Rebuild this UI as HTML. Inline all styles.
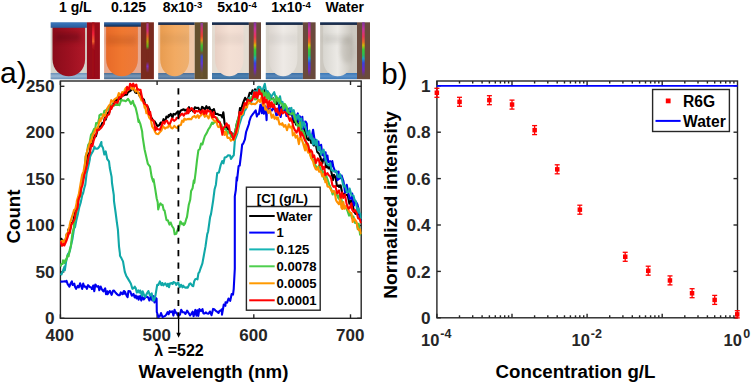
<!DOCTYPE html>
<html><head><meta charset="utf-8"><style>
html,body{margin:0;padding:0;background:#fff;}
svg{display:block;}
text{font-family:"Liberation Sans",sans-serif;}
</style></head><body>
<svg width="751" height="383" viewBox="0 0 751 383">
<defs>
<filter id="blur" x="-200%" y="-10%" width="500%" height="120%"><feGaussianBlur stdDeviation="0.75"/></filter>
<filter id="blur2" x="-20%" y="-50%" width="140%" height="200%"><feGaussianBlur stdDeviation="2"/></filter>
<linearGradient id="sg0" x1="0" y1="0" x2="0" y2="1"><stop offset="0" stop-color="#a00c18"/><stop offset="0.08" stop-color="#d02020"/><stop offset="0.2" stop-color="#ff2040"/><stop offset="0.35" stop-color="#ff7030"/><stop offset="0.42" stop-color="#c02020"/><stop offset="0.5" stop-color="#a00c18"/><stop offset="1" stop-color="#a00c18"/></linearGradient>
<linearGradient id="cg0" x1="0" y1="0" x2="1" y2="0"><stop offset="0" stop-color="#8a0c1a"/><stop offset="0.5" stop-color="#9c1020"/><stop offset="1" stop-color="#b01828"/></linearGradient>
<linearGradient id="tg0" x1="0" y1="0" x2="0" y2="1"><stop offset="0" stop-color="#3a78c0"/><stop offset="1" stop-color="#2a5a98"/></linearGradient>
<linearGradient id="bg0" x1="0" y1="0" x2="0" y2="1"><stop offset="0" stop-color="#6a90b8"/><stop offset="0.5" stop-color="#9ab8d4"/><stop offset="1" stop-color="#6a90b8"/></linearGradient>
<linearGradient id="sg1" x1="0" y1="0" x2="0" y2="1"><stop offset="0" stop-color="#7a2a1e"/><stop offset="0.03" stop-color="#b040a0"/><stop offset="0.15" stop-color="#e03090"/><stop offset="0.25" stop-color="#ff6030"/><stop offset="0.35" stop-color="#c0c000"/><stop offset="0.44" stop-color="#60c020"/><stop offset="0.5" stop-color="#7a2a1e"/><stop offset="0.72" stop-color="#7a2a1e"/><stop offset="0.8" stop-color="#8030e0"/><stop offset="0.92" stop-color="#7a2a1e"/><stop offset="1" stop-color="#7a2a1e"/></linearGradient>
<linearGradient id="cg1" x1="0" y1="0" x2="1" y2="0"><stop offset="0" stop-color="#e86a28"/><stop offset="0.5" stop-color="#f07830"/><stop offset="1" stop-color="#ec7a3c"/></linearGradient>
<linearGradient id="tg1" x1="0" y1="0" x2="0" y2="1"><stop offset="0" stop-color="#3070b8"/><stop offset="1" stop-color="#102a50"/></linearGradient>
<linearGradient id="bg1" x1="0" y1="0" x2="0" y2="1"><stop offset="0" stop-color="#4a6e94"/><stop offset="0.5" stop-color="#7a98b8"/><stop offset="1" stop-color="#4a6e94"/></linearGradient>
<linearGradient id="sg2" x1="0" y1="0" x2="0" y2="1"><stop offset="0" stop-color="#6e5530"/><stop offset="0.02" stop-color="#9040b0"/><stop offset="0.12" stop-color="#e03070"/><stop offset="0.25" stop-color="#ff4030"/><stop offset="0.33" stop-color="#ff9020"/><stop offset="0.42" stop-color="#40d030"/><stop offset="0.5" stop-color="#30b040"/><stop offset="0.56" stop-color="#6e5530"/><stop offset="0.62" stop-color="#3050e0"/><stop offset="0.75" stop-color="#6030f0"/><stop offset="0.92" stop-color="#6e5530"/><stop offset="1" stop-color="#6e5530"/></linearGradient>
<linearGradient id="cg2" x1="0" y1="0" x2="1" y2="0"><stop offset="0" stop-color="#e89c50"/><stop offset="0.5" stop-color="#f2aa62"/><stop offset="1" stop-color="#eeb070"/></linearGradient>
<linearGradient id="tg2" x1="0" y1="0" x2="0" y2="1"><stop offset="0" stop-color="#2a4a78"/><stop offset="1" stop-color="#101e3a"/></linearGradient>
<linearGradient id="bg2" x1="0" y1="0" x2="0" y2="1"><stop offset="0" stop-color="#4a6e98"/><stop offset="0.5" stop-color="#6a8cb0"/><stop offset="1" stop-color="#4a6e98"/></linearGradient>
<linearGradient id="sg3" x1="0" y1="0" x2="0" y2="1"><stop offset="0" stop-color="#8030b0"/><stop offset="0.12" stop-color="#d030b0"/><stop offset="0.26" stop-color="#ff3060"/><stop offset="0.36" stop-color="#ff7020"/><stop offset="0.42" stop-color="#e0d000"/><stop offset="0.5" stop-color="#30e030"/><stop offset="0.6" stop-color="#20d060"/><stop offset="0.66" stop-color="#10b0e0"/><stop offset="0.74" stop-color="#3040ff"/><stop offset="0.86" stop-color="#7020e0"/><stop offset="0.96" stop-color="#6a4060"/><stop offset="1" stop-color="#6a4a3c"/></linearGradient>
<linearGradient id="cg3" x1="0" y1="0" x2="1" y2="0"><stop offset="0" stop-color="#e8d0c4"/><stop offset="0.5" stop-color="#f4e0d4"/><stop offset="1" stop-color="#f0dcd2"/></linearGradient>
<linearGradient id="tg3" x1="0" y1="0" x2="0" y2="1"><stop offset="0" stop-color="#203c64"/><stop offset="1" stop-color="#101e38"/></linearGradient>
<linearGradient id="bg3" x1="0" y1="0" x2="0" y2="1"><stop offset="0" stop-color="#3a6ea0"/><stop offset="0.5" stop-color="#4a80b0"/><stop offset="1" stop-color="#3a6ea0"/></linearGradient>
<linearGradient id="sg4" x1="0" y1="0" x2="0" y2="1"><stop offset="0" stop-color="#8030b0"/><stop offset="0.12" stop-color="#d030b0"/><stop offset="0.26" stop-color="#ff3060"/><stop offset="0.36" stop-color="#ff7020"/><stop offset="0.42" stop-color="#e0d000"/><stop offset="0.5" stop-color="#30e030"/><stop offset="0.6" stop-color="#20d060"/><stop offset="0.66" stop-color="#10b0e0"/><stop offset="0.74" stop-color="#3040ff"/><stop offset="0.86" stop-color="#7020e0"/><stop offset="0.96" stop-color="#6a4060"/><stop offset="1" stop-color="#6a4a3c"/></linearGradient>
<linearGradient id="cg4" x1="0" y1="0" x2="1" y2="0"><stop offset="0" stop-color="#dcd6d0"/><stop offset="0.5" stop-color="#eeeae6"/><stop offset="1" stop-color="#e4e0da"/></linearGradient>
<linearGradient id="tg4" x1="0" y1="0" x2="0" y2="1"><stop offset="0" stop-color="#203c64"/><stop offset="1" stop-color="#101e38"/></linearGradient>
<linearGradient id="bg4" x1="0" y1="0" x2="0" y2="1"><stop offset="0" stop-color="#3a70a8"/><stop offset="0.5" stop-color="#5a88b8"/><stop offset="1" stop-color="#3a70a8"/></linearGradient>
<linearGradient id="sg5" x1="0" y1="0" x2="0" y2="1"><stop offset="0" stop-color="#8030b0"/><stop offset="0.12" stop-color="#d030b0"/><stop offset="0.26" stop-color="#ff3060"/><stop offset="0.36" stop-color="#ff7020"/><stop offset="0.42" stop-color="#e0d000"/><stop offset="0.5" stop-color="#30e030"/><stop offset="0.6" stop-color="#20d060"/><stop offset="0.66" stop-color="#10b0e0"/><stop offset="0.74" stop-color="#3040ff"/><stop offset="0.86" stop-color="#7020e0"/><stop offset="0.96" stop-color="#6a4060"/><stop offset="1" stop-color="#6a4a3c"/></linearGradient>
<linearGradient id="cg5" x1="0" y1="0" x2="1" y2="0"><stop offset="0" stop-color="#d8d6d0"/><stop offset="0.5" stop-color="#eceae6"/><stop offset="1" stop-color="#c8c4bc"/></linearGradient>
<linearGradient id="tg5" x1="0" y1="0" x2="0" y2="1"><stop offset="0" stop-color="#203c64"/><stop offset="1" stop-color="#101e38"/></linearGradient>
<linearGradient id="bg5" x1="0" y1="0" x2="0" y2="1"><stop offset="0" stop-color="#3a78b8"/><stop offset="0.5" stop-color="#5a90c8"/><stop offset="1" stop-color="#3a78b8"/></linearGradient>
</defs>
<rect width="751" height="383" fill="#fff"/>
<!-- photo labels -->
<g font-weight="bold" font-size="14" fill="#000" text-anchor="middle">
<text x="75.3" y="12">1 g/L</text>
<text x="128.5" y="12">0.125</text>
<text x="182.5" y="12">8x10<tspan font-size="9.5" dy="-4">-3</tspan></text>
<text x="237" y="12">5x10<tspan font-size="9.5" dy="-4">-4</tspan></text>
<text x="291" y="12">1x10<tspan font-size="9.5" dy="-4">-4</tspan></text>
<text x="344.7" y="12">Water</text>
</g>
<rect x="50.7" y="22.3" width="36.2" height="56.9" fill="#d4d4cc"/>
<rect x="50.7" y="73.0" width="36.2" height="6.2" fill="url(#bg0)"/>
<path d="M52.5,24.5 L85.1,24.5 L85.1,59.0 C85.1,82.0 52.5,82.0 52.5,59.0 Z" fill="url(#cg0)"/>
<rect x="52.5" y="34" width="32.6" height="10" fill="#000" opacity="0.035" filter="url(#blur2)"/>
<rect x="50.7" y="22.3" width="36.2" height="5.5" fill="url(#tg0)"/>
<rect x="86.9" y="22.3" width="13.0" height="56.9" fill="#980c1a"/>
<rect x="92.1" y="22.3" width="2.4" height="54.9" fill="url(#sg0)" filter="url(#blur)" opacity="0.85"/>
<rect x="104.1" y="22.3" width="36.8" height="56.9" fill="#e6a890"/>
<rect x="104.1" y="73.0" width="36.8" height="6.2" fill="url(#bg1)"/>
<path d="M106.1,24.5 L137.9,24.5 L137.9,59.0 C137.9,82.0 106.1,82.0 106.1,59.0 Z" fill="url(#cg1)"/>
<rect x="106.1" y="34" width="31.8" height="10" fill="#000" opacity="0.035" filter="url(#blur2)"/>
<rect x="104.1" y="22.3" width="36.8" height="4.4" fill="url(#tg1)"/>
<rect x="140.9" y="22.3" width="13.0" height="56.9" fill="#7a2a1e"/>
<rect x="146.4" y="22.3" width="2.2" height="54.9" fill="url(#sg1)" filter="url(#blur)" opacity="0.85"/>
<rect x="158.2" y="22.3" width="36.5" height="56.9" fill="#f0c8a8"/>
<rect x="158.2" y="73.0" width="36.5" height="6.2" fill="url(#bg2)"/>
<path d="M160.2,24.5 L189.2,24.5 L189.2,59.0 C189.2,82.0 160.2,82.0 160.2,59.0 Z" fill="url(#cg2)"/>
<rect x="160.2" y="34" width="29.0" height="10" fill="#000" opacity="0.035" filter="url(#blur2)"/>
<rect x="158.2" y="22.3" width="36.5" height="2.6" fill="url(#tg2)"/>
<rect x="194.7" y="22.3" width="13.0" height="56.9" fill="#64502e"/>
<rect x="200.5" y="22.3" width="2.4" height="54.9" fill="url(#sg2)" filter="url(#blur)" opacity="0.85"/>
<rect x="212.0" y="22.3" width="36.9" height="56.9" fill="#e4dcd2"/>
<rect x="212.0" y="73.0" width="36.9" height="6.2" fill="url(#bg3)"/>
<path d="M215.0,24.5 L243.5,24.5 L243.5,59.0 C243.5,82.0 215.0,82.0 215.0,59.0 Z" fill="url(#cg3)"/>
<rect x="215.0" y="34" width="28.5" height="10" fill="#000" opacity="0.035" filter="url(#blur2)"/>
<rect x="212.0" y="22.3" width="36.9" height="2.6" fill="url(#tg3)"/>
<rect x="248.9" y="22.3" width="12.1" height="56.9" fill="#6a4a3c"/>
<rect x="253.7" y="22.3" width="2.6" height="54.9" fill="url(#sg3)" filter="url(#blur)" opacity="0.85"/>
<rect x="265.8" y="22.3" width="37.1" height="56.9" fill="#d8d4cc"/>
<rect x="265.8" y="73.0" width="37.1" height="6.2" fill="url(#bg4)"/>
<path d="M269.0,24.5 L297.4,24.5 L297.4,59.0 C297.4,82.0 269.0,82.0 269.0,59.0 Z" fill="url(#cg4)"/>
<rect x="269.0" y="34" width="28.4" height="10" fill="#000" opacity="0.035" filter="url(#blur2)"/>
<rect x="265.8" y="22.3" width="37.1" height="2.6" fill="url(#tg4)"/>
<rect x="302.9" y="22.3" width="12.7" height="56.9" fill="#6a4a3c"/>
<rect x="308.0" y="22.3" width="2.6" height="54.9" fill="url(#sg4)" filter="url(#blur)" opacity="0.85"/>
<rect x="320.1" y="22.3" width="36.9" height="56.9" fill="#ccc8c0"/>
<rect x="320.1" y="73.0" width="36.9" height="6.2" fill="url(#bg5)"/>
<path d="M323.1,24.5 L352.3,24.5 L352.3,59.0 C352.3,82.0 323.1,82.0 323.1,59.0 Z" fill="url(#cg5)"/>
<rect x="323.1" y="34" width="29.2" height="10" fill="#000" opacity="0.035" filter="url(#blur2)"/>
<rect x="320.1" y="22.3" width="36.9" height="2.6" fill="url(#tg5)"/>
<rect x="357.0" y="22.3" width="13.0" height="56.9" fill="#6a4a3c"/>
<rect x="362.1" y="22.3" width="2.6" height="54.9" fill="url(#sg5)" filter="url(#blur)" opacity="0.85"/>
<ellipse cx="347" cy="50" rx="7" ry="13" fill="#8a8478" opacity="0.22" filter="url(#blur2)"/>
<rect x="324" y="36" width="28" height="6" fill="#8a8478" opacity="0.10" filter="url(#blur2)"/>
<rect x="56" y="33" width="24" height="8" fill="#400008" opacity="0.25" filter="url(#blur2)"/>
<rect x="107" y="37" width="28" height="8" fill="#a04010" opacity="0.15" filter="url(#blur2)"/>
<!-- panel a -->
<text x="0" y="83" font-size="30" fill="#000">a)</text>
<g stroke="#262626" stroke-width="1.4" fill="none">
<rect x="60.4" y="81" width="300.8" height="237.3"/>
<line x1="60.4" y1="318.3" x2="60.4" y2="314.3"/><line x1="60.4" y1="81" x2="60.4" y2="85"/>
<line x1="157.1" y1="318.3" x2="157.1" y2="314.3"/><line x1="157.1" y1="81" x2="157.1" y2="85"/>
<line x1="253.8" y1="318.3" x2="253.8" y2="314.3"/><line x1="253.8" y1="81" x2="253.8" y2="85"/>
<line x1="350.5" y1="318.3" x2="350.5" y2="314.3"/><line x1="350.5" y1="81" x2="350.5" y2="85"/>
<line x1="60.4" y1="318.3" x2="64.4" y2="318.3"/><line x1="361.2" y1="318.3" x2="357.2" y2="318.3"/>
<line x1="60.4" y1="271.9" x2="64.4" y2="271.9"/><line x1="361.2" y1="271.9" x2="357.2" y2="271.9"/>
<line x1="60.4" y1="225.5" x2="64.4" y2="225.5"/><line x1="361.2" y1="225.5" x2="357.2" y2="225.5"/>
<line x1="60.4" y1="179.1" x2="64.4" y2="179.1"/><line x1="361.2" y1="179.1" x2="357.2" y2="179.1"/>
<line x1="60.4" y1="132.7" x2="64.4" y2="132.7"/><line x1="361.2" y1="132.7" x2="357.2" y2="132.7"/>
<line x1="60.4" y1="86.3" x2="64.4" y2="86.3"/><line x1="361.2" y1="86.3" x2="357.2" y2="86.3"/>
</g>
<clipPath id="clipa"><rect x="60" y="81" width="301.6" height="237.3"/></clipPath>
<g clip-path="url(#clipa)">
<polyline points="60.4,238.3 62.4,239.8 63.9,243.2 64.3,242.6 65.3,241.1 66.9,233.7 68.3,234.8 68.4,229.4 69.5,231.8 71.5,222.9 73.0,222.2 74.7,214.3 76.2,209.1 77.6,201.6 79.4,194.8 81.5,183.9 82.9,179.6 84.8,170.5 86.8,162.4 87.9,154.6 89.6,152.6 91.0,143.7 93.0,140.6 94.7,135.4 95.8,136.4 97.3,131.3 97.3,130.1 98.8,126.6 100.9,126.6 102.2,123.1 103.3,124.2 104.9,117.2 105.7,119.6 107.7,112.7 109.3,112.4 110.5,105.3 111.3,106.7 112.8,105.5 114.5,100.4 116.0,99.5 117.1,102.7 118.9,97.2 120.7,99.7 121.8,94.0 123.3,95.5 124.6,95.1 125.7,94.3 126.9,94.7 128.0,92.2 130.0,91.0 131.3,90.2 132.2,85.8 133.2,87.2 135.1,92.2 136.7,93.0 138.6,92.7 139.8,96.5 140.5,94.1 141.8,98.1 143.9,99.6 145.3,105.0 146.8,105.2 148.8,109.3 148.9,114.7 150.3,115.1 151.5,117.7 153.4,121.1 154.4,121.2 155.8,123.3 157.5,126.2 159.5,125.0 160.7,122.5 161.7,124.9 163.5,119.2 165.2,121.7 166.4,116.6 167.9,117.3 168.8,115.0 169.2,116.2 170.7,113.9 172.5,117.5 173.5,113.9 175.2,114.5 176.5,112.9 178.0,111.3 178.8,115.4 180.5,110.7 182.0,110.0 183.7,109.2 184.7,110.4 185.8,110.5 186.2,109.6 187.6,111.9 189.0,107.2 190.1,111.0 191.8,108.6 193.3,111.4 194.8,107.3 196.4,108.0 198.4,107.9 200.0,111.5 201.0,110.4 202.1,106.9 203.8,108.2 205.1,109.5 206.4,106.2 207.9,108.6 209.3,107.0 211.1,112.2 212.2,109.9 213.4,112.2 213.9,109.1 215.3,114.0 217.3,113.9 219.2,115.0 221.0,115.1 222.4,117.4 223.3,112.2 223.5,113.4 224.5,122.9 226.5,129.3 227.8,126.6 229.4,132.2 231.3,132.3 232.6,136.6 233.8,135.5 235.4,130.8 236.9,123.1 238.6,118.3 240.0,108.0 241.0,110.1 243.0,103.2 245.1,97.8 247.0,100.6 248.0,98.7 249.7,92.7 251.5,93.8 252.5,90.3 254.3,95.4 255.0,89.4 257.0,90.9 258.2,88.5 260.0,93.1 261.2,93.9 262.7,92.0 264.6,90.1 266.7,96.7 268.5,96.0 270.0,95.5 271.4,98.9 273.2,98.4 274.5,101.9 276.5,104.0 277.0,99.6 278.4,103.3 280.2,110.5 281.2,107.9 283.2,104.8 284.9,111.8 286.2,108.6 287.9,113.6 289.7,114.4 290.0,111.9 292.0,114.0 293.4,122.3 294.6,119.3 296.0,124.7 297.2,120.0 298.7,123.6 300.5,122.7 301.3,129.2 303.0,127.1 304.8,130.5 306.9,138.4 308.6,140.1 309.6,136.4 311.2,143.1 312.0,138.3 313.7,145.5 315.8,144.3 317.3,152.1 319.3,154.0 320.2,156.7 322.3,163.4 323.4,159.1 325.3,160.1 326.0,167.4 327.4,165.1 328.4,168.4 329.4,166.6 331.2,171.2 333.0,180.1 334.0,174.8 335.7,177.8 336.9,185.9 338.9,185.4 339.0,186.9 340.6,185.3 342.6,194.7 344.1,193.9 345.8,195.0 347.7,194.8 349.4,203.8 351.3,200.3 352.0,202.4 354.0,210.9 355.5,213.9 357.5,210.5 359.2,214.6 361.0,215.7" fill="none" stroke="#000000" stroke-width="2.1" stroke-linejoin="round"/>
<polyline points="60.4,281.5 61.7,281.6 63.5,281.5 64.4,281.4 66.2,281.6 66.5,280.8 67.7,284.2 69.4,286.6 70.6,283.5 71.9,281.4 72.7,285.0 74.3,283.7 75.0,286.8 76.1,288.8 77.7,285.9 78.8,287.4 80.1,283.3 81.0,285.7 82.2,288.9 83.2,283.5 84.2,286.8 85.8,286.5 86.9,288.8 88.1,285.2 89.9,287.0 91.7,287.9 91.9,289.0 93.2,285.6 94.3,291.2 95.3,284.5 97.0,286.7 98.4,286.1 99.3,290.2 100.7,286.6 102.0,289.6 103.4,291.4 105.2,288.3 106.0,294.1 107.3,291.3 107.6,294.3 108.4,292.9 109.9,290.8 111.6,294.8 113.0,290.8 114.0,290.5 115.7,292.8 117.0,294.2 118.3,295.2 119.8,295.1 120.8,292.4 122.4,294.2 123.9,291.0 124.0,293.7 125.0,291.8 126.6,295.6 127.6,297.1 128.4,291.1 130.1,291.2 131.8,295.7 133.5,293.9 134.7,297.4 135.8,295.5 136.6,298.5 138.0,296.4 138.6,299.6 140.2,295.9 141.3,300.6 142.3,296.9 143.8,299.4 145.4,297.3 147.2,296.8 148.1,297.3 149.4,300.5 151.1,296.2 152.3,300.5 153.7,296.2 154.5,302.4 155.0,297.3 156.6,298.8 156.8,312.0 158.5,317.2 160.0,315.8 161.0,313.1 162.6,317.1 163.6,316.6 165.2,315.9 166.1,314.9 167.7,312.1 168.7,314.2 169.8,311.2 170.9,312.1 172.4,311.3 173.4,315.6 174.6,309.8 175.4,312.7 176.4,312.5 177.7,315.2 178.5,315.7 180.0,314.6 181.2,309.7 182.7,312.3 184.2,312.3 185.4,314.0 187.1,310.7 188.5,312.8 190.1,315.5 191.3,313.8 192.6,311.7 193.6,316.3 195.4,309.9 196.4,315.6 197.5,310.2 198.3,315.9 199.4,309.1 201.0,311.1 202.5,309.1 203.4,313.4 204.6,313.5 205.8,312.4 207.2,313.5 208.5,313.7 209.9,311.5 211.5,315.2 213.1,308.9 214.2,309.2 215.5,310.5 216.6,311.5 217.5,311.8 218.5,313.0 219.6,310.7 220.7,310.6 221.8,309.3 222.0,314.6 223.8,304.5 225.4,305.8 225.5,302.2 227.1,302.7 228.5,298.5 230.2,300.8 231.7,294.1 233.0,294.6 233.7,289.2 234.8,268.8 234.8,196.3 235.8,190.1 236.7,177.3 237.0,180.7 238.6,166.1 239.7,165.5 241.3,152.5 242.2,144.3 243.1,143.8 244.9,139.4 246.1,132.0 247.2,128.8 248.9,124.0 249.3,121.5 250.8,117.0 251.8,115.5 253.0,113.8 254.0,112.6 255.7,110.4 256.9,116.5 257.5,114.4 258.9,114.1 260.4,104.8 261.8,113.1 262.7,102.9 263.9,113.8 265.6,106.3 266.6,120.1 266.8,110.8 268.4,108.1 269.5,108.6 271.0,110.2 272.1,110.5 273.3,106.6 274.6,109.7 275.0,108.8 276.3,115.2 278.1,114.6 279.2,105.4 280.7,117.0 282.0,107.8 283.0,110.3 284.7,105.5 285.5,111.0 286.4,115.9 288.2,110.6 289.3,108.4 290.6,114.4 292.0,110.7 293.6,119.1 295.1,115.0 296.2,117.9 297.8,113.4 298.6,122.2 299.8,116.3 301.0,121.7 302.3,116.7 303.2,128.9 304.2,121.7 305.6,121.6 306.8,123.8 307.0,130.1 308.4,132.0 310.1,136.8 311.6,138.7 312.0,135.6 313.1,129.8 314.7,140.7 315.7,139.8 316.6,144.5 318.4,141.5 319.5,150.3 321.1,144.7 322.4,155.1 323.8,151.7 324.6,160.0 325.6,152.2 326.0,159.5 327.4,155.5 328.3,162.3 330.1,161.2 331.0,167.6 332.3,161.1 333.3,166.6 334.8,170.6 335.9,172.1 336.8,171.6 337.6,180.1 338.6,171.6 339.0,178.9 340.3,178.1 341.6,175.5 343.4,181.0 345.1,192.4 346.7,184.8 348.2,192.3 349.6,198.8 351.4,198.4 352.2,193.5 353.1,202.6 354.2,205.4 355.1,200.6 356.5,202.9 357.5,204.6 358.6,209.7 359.7,217.9 360.6,220.1 361.0,219.6" fill="none" stroke="#0000f0" stroke-width="2.1" stroke-linejoin="round"/>
<polyline points="60.4,273.7 61.5,274.4 62.7,271.4 64.5,266.6 64.8,270.3 66.3,260.4 68.0,253.9 69.0,252.8 69.9,250.9 71.0,245.6 72.6,238.2 74.1,228.2 75.0,227.3 76.3,220.6 77.9,213.9 79.2,207.5 80.8,202.1 82.7,193.1 83.0,193.7 84.3,188.0 85.3,184.6 86.6,173.6 88.0,168.0 89.8,159.6 90.0,157.2 91.2,154.1 93.1,151.0 94.4,146.7 95.2,148.5 96.2,148.6 97.1,148.7 98.0,148.3 99.8,146.0 101.4,142.0 101.5,145.2 103.0,148.1 104.3,154.5 105.7,151.4 107.2,159.0 109.0,161.3 109.8,168.0 111.6,176.9 112.0,183.0 113.8,195.1 114.0,201.1 115.6,212.5 116.8,221.8 117.9,229.6 119.0,246.3 119.9,253.3 120.0,255.8 121.6,258.6 123.0,261.4 124.8,271.9 126.2,275.7 127.5,277.9 129.4,281.1 130.9,283.8 132.4,288.8 133.7,288.1 134.8,286.7 135.8,288.4 136.8,292.6 138.3,290.4 139.3,292.6 140.2,290.5 141.9,295.7 142.7,291.3 144.0,294.8 145.4,296.8 147.0,293.3 148.4,291.0 150.0,295.6 151.7,293.4 153.2,300.5 154.1,300.5 155.5,295.2 157.2,284.9 158.3,285.0 159.9,281.4 161.4,285.1 162.3,283.0 163.4,285.3 165.3,283.3 167.0,286.1 167.9,283.8 169.0,287.2 169.9,283.5 171.7,283.1 172.6,284.0 173.5,282.0 175.0,282.6 176.3,284.9 177.5,282.8 178.4,282.9 179.7,287.3 181.0,284.8 182.4,287.3 183.2,285.6 184.2,287.0 185.3,287.6 186.6,287.4 187.8,287.7 189.4,284.0 190.5,283.4 192.4,285.9 193.3,286.1 194.2,281.2 195.3,279.2 196.8,278.6 197.5,279.4 198.4,273.3 199.5,271.8 200.8,267.8 202.4,263.4 203.7,256.2 205.5,246.4 207.2,234.4 208.1,231.5 210.1,217.1 211.0,214.1 211.9,208.7 213.1,200.8 214.6,189.2 215.9,184.7 217.2,173.1 218.9,172.5 220.7,165.0 222.2,161.0 223.4,163.4 224.7,157.5 226.6,156.9 228.1,155.2 230.1,155.6 231.0,159.0 232.8,156.3 233.8,155.2 234.9,139.9 236.0,137.1 237.4,133.1 238.6,127.4 239.5,123.8 240.1,122.2 242.0,116.2 243.5,114.8 244.6,110.6 245.7,109.5 247.1,102.3 248.0,103.6 249.0,98.1 250.9,103.4 252.8,95.4 253.9,91.7 255.0,91.0 256.2,95.0 257.9,87.2 258.8,86.7 260.2,87.1 261.6,90.7 263.1,88.8 264.8,83.8 266.6,94.5 267.7,91.2 268.7,93.0 270.0,94.5 270.6,98.0 272.5,94.8 274.2,92.2 275.8,97.8 277.7,98.0 278.9,103.4 280.0,96.2 281.3,103.8 282.5,101.9 284.0,108.0 285.9,106.5 287.0,111.7 288.4,111.5 290.0,108.9 291.4,107.9 292.0,113.5 293.7,110.1 295.5,118.1 296.5,119.6 297.5,115.2 298.4,115.0 299.4,120.0 301.3,118.4 302.2,127.6 303.9,122.0 305.6,127.3 306.6,132.1 307.7,135.1 309.4,130.6 310.5,138.5 311.4,134.9 313.0,144.5 313.9,139.1 315.5,145.1 316.7,139.9 318.1,150.1 319.9,146.8 321.0,154.7 322.4,151.3 323.6,149.5 324.7,155.2 326.0,161.4 327.0,164.2 328.8,165.4 330.3,163.1 331.5,170.0 333.4,171.2 334.6,171.6 336.2,170.8 337.9,176.7 339.0,177.2 339.9,174.1 341.7,178.3 343.6,186.7 344.6,185.3 345.6,187.6 347.0,192.5 348.5,191.9 349.6,188.5 351.5,195.2 353.5,195.8 354.6,200.0 356.1,202.1 357.4,212.6 358.5,208.3 359.4,213.2 360.5,213.8 361.0,219.2" fill="none" stroke="#10a8a8" stroke-width="2.1" stroke-linejoin="round"/>
<polyline points="60.4,266.5 61.4,264.0 62.6,263.9 63.0,260.3 64.6,262.9 65.6,259.5 66.0,260.8 67.5,255.4 68.6,256.3 69.9,249.3 70.9,245.7 72.3,234.0 73.8,227.4 74.0,224.4 75.6,216.9 77.4,205.1 79.4,197.0 80.0,196.8 81.7,186.7 83.4,175.7 84.7,167.4 85.6,156.5 87.0,151.8 88.3,144.7 89.5,143.3 91.0,134.9 92.6,132.5 94.1,128.8 95.2,128.9 96.1,123.1 97.9,123.4 99.2,118.1 99.4,115.4 101.1,114.1 103.1,115.7 104.3,110.9 105.9,110.1 107.2,109.2 109.0,109.9 109.2,107.1 110.4,107.6 112.3,104.6 113.9,105.7 115.7,104.6 117.6,105.0 117.6,104.0 119.4,105.1 121.4,99.7 122.4,100.4 124.3,100.6 125.7,101.2 127.2,99.9 128.0,98.9 129.7,101.4 131.0,103.9 132.9,100.9 134.2,105.7 134.3,104.6 135.7,108.0 137.3,114.7 138.5,121.9 138.5,119.4 140.3,123.8 142.1,131.2 142.6,136.6 144.6,149.5 145.8,154.8 146.8,159.2 147.9,163.9 150.0,166.6 151.6,176.6 153.2,181.6 153.6,179.4 155.4,190.1 155.7,192.2 156.7,198.5 157.7,202.2 158.2,209.5 159.3,205.4 160.5,203.3 161.4,204.8 162.5,204.8 163.7,209.9 164.6,210.6 166.5,220.1 167.8,220.2 169.5,224.6 170.7,222.5 172.0,226.0 173.7,228.5 174.7,234.3 176.4,233.7 176.5,233.0 178.1,228.5 178.6,230.0 180.3,221.6 180.6,221.5 182.2,224.1 183.3,223.4 183.8,225.1 184.9,223.7 186.3,218.8 187.0,217.0 188.8,204.7 190.2,199.8 191.1,191.0 192.6,188.2 193.8,180.3 194.3,182.9 195.7,171.9 197.0,160.4 198.4,150.2 199.8,149.0 201.1,143.6 202.4,144.5 203.9,139.0 204.9,136.0 206.5,133.4 206.7,133.1 208.3,129.5 210.1,126.8 212.1,122.5 213.0,123.8 214.8,122.1 216.7,122.0 217.1,117.9 218.3,120.4 219.8,121.8 221.1,128.9 221.3,124.6 222.9,129.5 224.2,129.0 225.8,128.8 227.4,134.2 228.4,131.3 229.9,131.7 231.2,136.9 233.0,135.2 233.8,138.3 234.9,133.6 236.4,125.7 237.8,119.6 239.5,114.7 240.0,112.5 241.1,114.5 243.2,108.0 244.3,106.9 245.4,106.4 246.7,105.3 248.0,99.4 248.0,101.0 249.5,102.9 251.6,96.9 252.6,96.7 254.0,96.0 255.0,99.4 257.0,98.9 259.1,90.2 260.1,90.2 261.7,93.1 262.0,94.6 263.0,90.7 264.6,97.4 265.7,92.3 267.5,99.7 268.5,93.4 270.0,100.1 271.0,99.5 271.9,99.3 273.3,98.9 275.2,103.8 276.4,96.3 278.1,101.1 279.2,98.9 280.4,103.2 282.2,103.7 283.4,109.5 284.8,103.9 286.6,106.7 288.1,112.2 289.9,113.6 291.5,114.1 292.0,113.3 293.4,113.4 295.4,120.9 297.0,124.3 299.0,129.3 299.9,122.1 301.0,132.3 302.8,130.5 304.5,134.5 306.1,144.0 307.8,143.7 309.8,151.4 311.5,158.2 313.0,159.4 314.6,163.8 316.3,166.9 317.6,168.2 319.3,165.1 320.9,170.5 322.7,171.2 324.2,179.3 325.2,179.2 326.0,175.2 327.9,180.6 329.6,185.5 331.3,189.4 332.6,194.5 334.0,191.2 335.7,194.8 336.7,194.7 338.7,198.7 339.0,195.4 341.1,197.6 342.1,202.4 343.2,204.7 345.1,207.0 346.5,208.5 347.7,211.3 349.1,215.6 350.8,212.9 351.9,217.9 353.4,216.4 355.1,222.9 356.8,223.1 357.7,229.0 358.7,223.9 360.1,234.6 361.0,231.4" fill="none" stroke="#44c844" stroke-width="2.1" stroke-linejoin="round"/>
<polyline points="60.4,241.9 62.3,240.6 64.1,244.4 64.3,240.8 65.5,239.5 66.5,234.3 67.9,232.6 68.4,230.8 69.4,226.5 70.3,222.1 72.4,215.7 74.1,209.9 75.3,209.1 76.7,202.6 76.8,201.1 78.8,194.3 80.7,183.0 82.1,174.9 83.6,171.3 85.3,161.8 85.8,156.4 87.4,150.2 88.6,147.2 90.5,140.4 91.0,142.4 92.7,135.2 94.7,131.4 95.8,128.6 97.8,127.9 99.8,119.6 100.7,121.1 100.9,118.2 101.8,118.7 103.3,114.4 104.7,116.2 105.9,113.3 107.2,108.6 109.0,105.4 110.3,104.6 111.3,100.1 113.0,101.9 114.5,99.3 116.3,98.1 117.5,97.3 118.8,93.0 120.7,96.2 122.2,92.0 123.7,93.5 124.9,89.6 125.8,87.9 126.0,90.2 127.0,91.0 128.9,89.1 130.3,86.1 132.2,89.3 133.6,87.4 135.6,91.6 137.2,89.2 138.0,92.9 139.8,95.8 141.5,100.4 143.2,101.0 144.7,107.7 144.7,104.0 146.4,113.2 147.4,111.5 149.1,117.5 150.8,119.5 152.1,126.4 154.0,129.1 155.1,132.0 156.4,133.8 158.3,134.2 159.6,132.4 161.4,130.6 163.0,126.0 165.0,128.7 166.0,127.6 167.8,127.5 169.6,123.9 170.7,127.4 172.5,128.5 174.4,125.9 175.8,127.4 177.3,128.1 178.8,125.6 180.9,125.0 182.1,120.6 183.5,121.8 184.4,118.6 185.8,119.8 187.3,119.1 189.3,118.9 191.3,119.2 192.6,116.9 194.7,116.1 195.8,117.6 197.7,115.1 198.8,118.0 200.2,115.7 201.0,115.4 202.9,112.8 204.8,116.9 205.9,114.7 207.4,116.5 208.6,118.4 210.1,113.8 211.7,115.2 211.8,117.9 213.7,120.2 215.0,121.6 216.4,120.8 217.4,125.3 218.3,127.0 219.2,127.1 220.5,125.6 222.5,131.6 224.5,131.7 224.5,135.0 225.9,132.1 227.6,137.9 229.6,137.9 230.9,140.7 232.7,139.1 233.8,140.2 235.4,135.3 237.2,131.6 238.7,123.1 240.0,116.0 241.7,114.5 242.6,114.1 243.6,109.1 244.7,108.2 245.8,106.5 247.0,107.5 247.9,102.6 248.0,104.3 249.6,102.7 251.6,104.2 252.9,103.7 254.2,103.9 255.0,104.3 256.7,102.7 258.6,99.6 260.0,102.0 261.4,97.4 263.1,105.6 264.4,103.8 265.3,109.7 266.5,108.7 268.4,113.0 269.9,109.8 271.7,117.8 273.2,114.6 274.5,118.8 276.0,117.2 277.0,119.4 277.9,117.4 279.5,124.4 279.5,123.5 281.4,124.7 282.3,123.2 283.9,126.7 285.4,125.0 287.0,130.2 288.8,124.3 290.3,127.6 291.9,126.4 292.8,135.4 294.4,133.0 295.6,137.7 297.2,135.5 298.9,144.1 300.0,137.9 301.3,138.1 303.1,143.4 305.1,150.4 305.6,144.1 307.0,149.5 308.2,152.7 309.2,149.8 310.1,154.8 311.3,158.3 313.0,161.1 314.1,165.6 315.8,169.2 317.0,169.7 318.0,167.0 319.1,171.7 320.8,171.3 322.3,176.4 323.9,173.9 325.4,182.2 326.0,179.1 327.5,186.4 329.5,187.1 330.6,189.1 332.4,192.1 333.6,191.0 334.7,192.3 336.0,200.1 337.0,201.9 339.0,204.3 340.3,197.8 341.4,207.6 342.3,209.0 343.3,202.0 344.5,208.8 345.9,206.0 347.5,208.4 349.6,212.0 351.5,213.6 352.7,222.0 354.4,218.7 356.4,221.9 357.4,226.5 358.7,230.1 360.1,229.3 361.0,234.3" fill="none" stroke="#ff9000" stroke-width="2.1" stroke-linejoin="round"/>
<polyline points="60.4,241.4 61.9,245.7 62.0,245.8 63.3,243.9 64.3,245.5 66.4,240.8 68.0,236.1 68.4,232.9 69.7,233.2 71.4,224.6 72.5,223.2 73.4,221.4 74.7,218.6 75.6,212.8 77.7,207.4 78.5,199.3 80.3,194.9 81.3,187.8 82.4,185.6 84.4,174.5 84.8,173.4 86.5,167.2 87.5,163.3 88.6,156.7 90.1,152.5 91.0,144.9 92.5,146.1 93.6,140.6 95.5,135.5 96.6,132.5 97.3,129.8 98.9,129.9 100.2,128.8 101.6,127.3 103.6,124.0 105.0,118.5 105.7,118.1 107.8,115.0 109.0,114.4 111.0,106.4 111.3,109.0 112.6,106.1 114.5,103.6 115.5,101.7 117.5,102.7 119.3,97.2 121.3,97.2 121.8,94.4 123.0,95.6 124.8,92.3 126.2,93.2 127.1,86.9 128.9,89.6 130.1,83.8 132.2,86.0 133.2,83.6 134.4,86.5 136.3,84.5 137.3,89.6 138.6,89.3 140.0,90.3 140.5,89.8 142.1,97.7 144.0,103.3 145.7,104.5 147.3,105.6 148.9,114.3 150.1,111.8 151.5,119.8 153.6,120.4 155.6,130.2 156.4,127.4 157.9,129.3 159.9,129.8 161.5,125.9 162.9,122.0 164.4,123.7 165.6,121.0 167.0,120.8 168.3,123.6 170.1,123.4 172.0,118.5 174.1,120.8 176.0,119.5 176.6,117.8 178.4,117.8 180.2,115.4 182.2,113.6 183.7,115.7 185.1,113.2 186.7,113.6 187.8,108.4 188.3,113.2 190.4,109.0 191.6,108.0 193.6,110.8 194.8,113.1 195.8,110.8 197.6,111.5 199.5,110.8 200.6,113.4 202.6,110.0 204.0,113.9 205.1,110.6 206.4,113.7 207.4,110.0 209.3,111.6 210.5,111.1 212.2,117.2 213.7,112.1 213.9,117.2 215.5,117.0 217.6,120.6 218.7,122.0 220.0,122.7 221.0,126.6 222.4,134.8 223.5,127.5 225.0,126.9 226.6,123.4 228.5,127.2 228.8,125.2 230.2,133.1 231.4,133.0 233.4,139.2 233.8,137.6 235.6,133.5 237.5,126.2 238.5,120.9 239.6,112.0 240.1,113.2 241.1,113.9 242.7,110.6 244.7,103.0 246.1,104.8 247.8,99.7 248.5,100.1 250.4,101.2 252.3,99.9 254.2,92.3 255.0,97.2 256.3,92.2 257.3,98.0 259.2,89.7 260.0,94.3 261.6,93.4 263.4,103.5 264.6,97.3 265.3,102.2 266.5,99.8 268.3,107.8 269.2,101.1 270.6,106.9 271.7,102.3 272.7,107.1 273.8,104.4 275.8,111.6 277.1,108.5 278.1,112.7 279.8,115.1 281.3,109.2 282.6,113.4 284.6,111.8 286.4,113.5 287.9,115.9 289.9,120.8 290.6,118.3 292.2,121.9 293.4,126.9 295.0,130.4 296.6,132.6 298.6,127.6 300.6,136.5 301.3,132.3 302.8,134.9 304.9,140.1 306.3,142.3 308.1,145.1 309.3,150.7 309.8,151.8 310.9,150.2 312.1,151.9 313.0,157.3 314.1,155.3 315.8,163.0 317.7,158.4 318.8,159.1 319.9,165.3 321.3,162.7 322.6,169.1 324.2,166.6 325.3,175.2 326.0,174.1 327.5,173.2 328.5,175.1 330.0,176.2 331.3,179.2 332.3,184.9 333.6,186.8 335.3,186.0 337.2,193.6 339.0,190.4 340.8,197.7 342.2,192.4 343.3,198.0 345.0,194.6 346.6,203.9 348.5,208.6 349.7,208.2 351.4,203.3 352.2,209.7 353.5,211.8 354.9,209.9 356.8,213.3 358.1,218.2 359.7,219.0 361.0,223.3" fill="none" stroke="#ff0000" stroke-width="2.1" stroke-linejoin="round"/>
</g>
<line x1="178.4" y1="82" x2="178.4" y2="318" stroke="#000" stroke-width="1.8" stroke-dasharray="6.2,6.25" stroke-dashoffset="6.2"/>
<line x1="178.6" y1="318" x2="178.6" y2="334" stroke="#000" stroke-width="1.3"/>
<path d="M176.3,332.8 L178.6,337.8 L180.9,332.8 Z" fill="#000"/>
<g font-weight="bold" font-size="17.2" fill="#262626" text-anchor="end">
<text x="54.5" y="324">0</text>
<text x="54.5" y="277.6">50</text>
<text x="54.5" y="231.2">100</text>
<text x="54.5" y="184.8">150</text>
<text x="54.5" y="138.4">200</text>
<text x="54.5" y="92">250</text>
</g>
<g font-weight="bold" font-size="17" fill="#262626" text-anchor="middle">
<text x="59.8" y="341">400</text>
<text x="156.8" y="341">500</text>
<text x="253.5" y="341">600</text>
<text x="350.2" y="341">700</text>
</g>
<text x="154.3" y="355.6" font-size="16" font-weight="bold" fill="#000">λ =522</text>
<text x="213.5" y="377.5" font-size="18.7" font-weight="bold" fill="#000" text-anchor="middle">Wavelength (nm)</text>
<text transform="translate(20,216.5) rotate(-90)" font-size="18.7" font-weight="bold" fill="#000" text-anchor="middle">Count</text>
<!-- legend a -->
<rect x="246.4" y="187.2" width="73.8" height="123" fill="#fff" stroke="#262626" stroke-width="1.4"/>
<line x1="246.4" y1="206.5" x2="320.2" y2="206.5" stroke="#262626" stroke-width="1.4"/>
<text x="282.4" y="202.9" font-size="13.4" font-weight="bold" fill="#000" text-anchor="middle">[C] (g/L)</text>
<g stroke-width="2">
<line x1="249.2" y1="216" x2="274.7" y2="216" stroke="#000"/>
<line x1="249.2" y1="232.6" x2="274.7" y2="232.6" stroke="#0000ff"/>
<line x1="249.2" y1="249.4" x2="274.7" y2="249.4" stroke="#17b5b5"/>
<line x1="249.2" y1="266.3" x2="274.7" y2="266.3" stroke="#4fcf4f"/>
<line x1="249.2" y1="283.3" x2="274.7" y2="283.3" stroke="#ff9a00"/>
<line x1="249.2" y1="300.3" x2="274.7" y2="300.3" stroke="#ff0000"/>
</g>
<g font-size="13.1" font-weight="bold" fill="#000">
<text x="276.5" y="220.7">Water</text>
<text x="276.5" y="237.3">1</text>
<text x="276.5" y="254.1">0.125</text>
<text x="276.5" y="271">0.0078</text>
<text x="276.5" y="288">0.0005</text>
<text x="276.5" y="305">0.0001</text>
</g>
<!-- panel b -->
<text x="381.3" y="84" font-size="29.5" fill="#000">b)</text>
<g stroke="#262626" stroke-width="1.4" fill="none">
<rect x="436.9" y="81" width="300.6" height="236.8"/>
<line x1="436.9" y1="317.8" x2="436.9" y2="313.8"/><line x1="436.9" y1="81" x2="436.9" y2="85"/>
<line x1="459.5" y1="317.8" x2="459.5" y2="315.3"/><line x1="459.5" y1="81" x2="459.5" y2="83.5"/>
<line x1="472.7" y1="317.8" x2="472.7" y2="315.3"/><line x1="472.7" y1="81" x2="472.7" y2="83.5"/>
<line x1="482.1" y1="317.8" x2="482.1" y2="315.3"/><line x1="482.1" y1="81" x2="482.1" y2="83.5"/>
<line x1="489.4" y1="317.8" x2="489.4" y2="315.3"/><line x1="489.4" y1="81" x2="489.4" y2="83.5"/>
<line x1="495.3" y1="317.8" x2="495.3" y2="315.3"/><line x1="495.3" y1="81" x2="495.3" y2="83.5"/>
<line x1="500.4" y1="317.8" x2="500.4" y2="315.3"/><line x1="500.4" y1="81" x2="500.4" y2="83.5"/>
<line x1="504.7" y1="317.8" x2="504.7" y2="315.3"/><line x1="504.7" y1="81" x2="504.7" y2="83.5"/>
<line x1="508.6" y1="317.8" x2="508.6" y2="315.3"/><line x1="508.6" y1="81" x2="508.6" y2="83.5"/>
<line x1="512.0" y1="317.8" x2="512.0" y2="313.8"/><line x1="512.0" y1="81" x2="512.0" y2="85"/>
<line x1="534.6" y1="317.8" x2="534.6" y2="315.3"/><line x1="534.6" y1="81" x2="534.6" y2="83.5"/>
<line x1="547.8" y1="317.8" x2="547.8" y2="315.3"/><line x1="547.8" y1="81" x2="547.8" y2="83.5"/>
<line x1="557.2" y1="317.8" x2="557.2" y2="315.3"/><line x1="557.2" y1="81" x2="557.2" y2="83.5"/>
<line x1="564.5" y1="317.8" x2="564.5" y2="315.3"/><line x1="564.5" y1="81" x2="564.5" y2="83.5"/>
<line x1="570.4" y1="317.8" x2="570.4" y2="315.3"/><line x1="570.4" y1="81" x2="570.4" y2="83.5"/>
<line x1="575.5" y1="317.8" x2="575.5" y2="315.3"/><line x1="575.5" y1="81" x2="575.5" y2="83.5"/>
<line x1="579.8" y1="317.8" x2="579.8" y2="315.3"/><line x1="579.8" y1="81" x2="579.8" y2="83.5"/>
<line x1="583.7" y1="317.8" x2="583.7" y2="315.3"/><line x1="583.7" y1="81" x2="583.7" y2="83.5"/>
<line x1="587.1" y1="317.8" x2="587.1" y2="313.8"/><line x1="587.1" y1="81" x2="587.1" y2="85"/>
<line x1="609.7" y1="317.8" x2="609.7" y2="315.3"/><line x1="609.7" y1="81" x2="609.7" y2="83.5"/>
<line x1="622.9" y1="317.8" x2="622.9" y2="315.3"/><line x1="622.9" y1="81" x2="622.9" y2="83.5"/>
<line x1="632.3" y1="317.8" x2="632.3" y2="315.3"/><line x1="632.3" y1="81" x2="632.3" y2="83.5"/>
<line x1="639.6" y1="317.8" x2="639.6" y2="315.3"/><line x1="639.6" y1="81" x2="639.6" y2="83.5"/>
<line x1="645.5" y1="317.8" x2="645.5" y2="315.3"/><line x1="645.5" y1="81" x2="645.5" y2="83.5"/>
<line x1="650.6" y1="317.8" x2="650.6" y2="315.3"/><line x1="650.6" y1="81" x2="650.6" y2="83.5"/>
<line x1="654.9" y1="317.8" x2="654.9" y2="315.3"/><line x1="654.9" y1="81" x2="654.9" y2="83.5"/>
<line x1="658.8" y1="317.8" x2="658.8" y2="315.3"/><line x1="658.8" y1="81" x2="658.8" y2="83.5"/>
<line x1="662.2" y1="317.8" x2="662.2" y2="313.8"/><line x1="662.2" y1="81" x2="662.2" y2="85"/>
<line x1="684.8" y1="317.8" x2="684.8" y2="315.3"/><line x1="684.8" y1="81" x2="684.8" y2="83.5"/>
<line x1="698.0" y1="317.8" x2="698.0" y2="315.3"/><line x1="698.0" y1="81" x2="698.0" y2="83.5"/>
<line x1="707.4" y1="317.8" x2="707.4" y2="315.3"/><line x1="707.4" y1="81" x2="707.4" y2="83.5"/>
<line x1="714.7" y1="317.8" x2="714.7" y2="315.3"/><line x1="714.7" y1="81" x2="714.7" y2="83.5"/>
<line x1="720.6" y1="317.8" x2="720.6" y2="315.3"/><line x1="720.6" y1="81" x2="720.6" y2="83.5"/>
<line x1="725.7" y1="317.8" x2="725.7" y2="315.3"/><line x1="725.7" y1="81" x2="725.7" y2="83.5"/>
<line x1="730.0" y1="317.8" x2="730.0" y2="315.3"/><line x1="730.0" y1="81" x2="730.0" y2="83.5"/>
<line x1="733.9" y1="317.8" x2="733.9" y2="315.3"/><line x1="733.9" y1="81" x2="733.9" y2="83.5"/>
<line x1="436.9" y1="317.8" x2="440.9" y2="317.8"/><line x1="737.5" y1="317.8" x2="733.5" y2="317.8"/>
<line x1="436.9" y1="271.4" x2="440.9" y2="271.4"/><line x1="737.5" y1="271.4" x2="733.5" y2="271.4"/>
<line x1="436.9" y1="225.0" x2="440.9" y2="225.0"/><line x1="737.5" y1="225.0" x2="733.5" y2="225.0"/>
<line x1="436.9" y1="178.6" x2="440.9" y2="178.6"/><line x1="737.5" y1="178.6" x2="733.5" y2="178.6"/>
<line x1="436.9" y1="132.2" x2="440.9" y2="132.2"/><line x1="737.5" y1="132.2" x2="733.5" y2="132.2"/>
<line x1="436.9" y1="85.8" x2="440.9" y2="85.8"/><line x1="737.5" y1="85.8" x2="733.5" y2="85.8"/>
</g>
<line x1="436.9" y1="85.9" x2="737.5" y2="85.9" stroke="#0000ff" stroke-width="1.7"/>
<g fill="#ff0000" stroke="#ff0000"><line x1="436.9" y1="88.3" x2="436.9" y2="97.3" stroke-width="1.3"/><line x1="434.4" y1="88.3" x2="439.4" y2="88.3" stroke-width="1.3"/><line x1="434.4" y1="97.3" x2="439.4" y2="97.3" stroke-width="1.3"/><rect x="434.6" y="90.5" width="4.5" height="4.5" stroke="none"/></g>
<g fill="#ff0000" stroke="#ff0000"><line x1="459.5" y1="97.3" x2="459.5" y2="106.3" stroke-width="1.3"/><line x1="457.0" y1="97.3" x2="462.0" y2="97.3" stroke-width="1.3"/><line x1="457.0" y1="106.3" x2="462.0" y2="106.3" stroke-width="1.3"/><rect x="457.3" y="99.6" width="4.5" height="4.5" stroke="none"/></g>
<g fill="#ff0000" stroke="#ff0000"><line x1="489.4" y1="95.7" x2="489.4" y2="104.7" stroke-width="1.3"/><line x1="486.9" y1="95.7" x2="491.9" y2="95.7" stroke-width="1.3"/><line x1="486.9" y1="104.7" x2="491.9" y2="104.7" stroke-width="1.3"/><rect x="487.1" y="97.9" width="4.5" height="4.5" stroke="none"/></g>
<g fill="#ff0000" stroke="#ff0000"><line x1="512.0" y1="100.1" x2="512.0" y2="109.1" stroke-width="1.3"/><line x1="509.5" y1="100.1" x2="514.5" y2="100.1" stroke-width="1.3"/><line x1="509.5" y1="109.1" x2="514.5" y2="109.1" stroke-width="1.3"/><rect x="509.8" y="102.3" width="4.5" height="4.5" stroke="none"/></g>
<g fill="#ff0000" stroke="#ff0000"><line x1="534.6" y1="125.6" x2="534.6" y2="134.6" stroke-width="1.3"/><line x1="532.1" y1="125.6" x2="537.1" y2="125.6" stroke-width="1.3"/><line x1="532.1" y1="134.6" x2="537.1" y2="134.6" stroke-width="1.3"/><rect x="532.4" y="127.9" width="4.5" height="4.5" stroke="none"/></g>
<g fill="#ff0000" stroke="#ff0000"><line x1="557.2" y1="164.8" x2="557.2" y2="173.8" stroke-width="1.3"/><line x1="554.7" y1="164.8" x2="559.7" y2="164.8" stroke-width="1.3"/><line x1="554.7" y1="173.8" x2="559.7" y2="173.8" stroke-width="1.3"/><rect x="555.0" y="167.1" width="4.5" height="4.5" stroke="none"/></g>
<g fill="#ff0000" stroke="#ff0000"><line x1="579.8" y1="205.2" x2="579.8" y2="214.2" stroke-width="1.3"/><line x1="577.3" y1="205.2" x2="582.3" y2="205.2" stroke-width="1.3"/><line x1="577.3" y1="214.2" x2="582.3" y2="214.2" stroke-width="1.3"/><rect x="577.6" y="207.4" width="4.5" height="4.5" stroke="none"/></g>
<g fill="#ff0000" stroke="#ff0000"><line x1="625.2" y1="252.3" x2="625.2" y2="261.3" stroke-width="1.3"/><line x1="622.7" y1="252.3" x2="627.7" y2="252.3" stroke-width="1.3"/><line x1="622.7" y1="261.3" x2="627.7" y2="261.3" stroke-width="1.3"/><rect x="623.0" y="254.5" width="4.5" height="4.5" stroke="none"/></g>
<g fill="#ff0000" stroke="#ff0000"><line x1="648.2" y1="266.2" x2="648.2" y2="275.2" stroke-width="1.3"/><line x1="645.7" y1="266.2" x2="650.7" y2="266.2" stroke-width="1.3"/><line x1="645.7" y1="275.2" x2="650.7" y2="275.2" stroke-width="1.3"/><rect x="646.0" y="268.5" width="4.5" height="4.5" stroke="none"/></g>
<g fill="#ff0000" stroke="#ff0000"><line x1="670.0" y1="275.9" x2="670.0" y2="284.9" stroke-width="1.3"/><line x1="667.5" y1="275.9" x2="672.5" y2="275.9" stroke-width="1.3"/><line x1="667.5" y1="284.9" x2="672.5" y2="284.9" stroke-width="1.3"/><rect x="667.7" y="278.2" width="4.5" height="4.5" stroke="none"/></g>
<g fill="#ff0000" stroke="#ff0000"><line x1="692.1" y1="288.7" x2="692.1" y2="297.7" stroke-width="1.3"/><line x1="689.6" y1="288.7" x2="694.6" y2="288.7" stroke-width="1.3"/><line x1="689.6" y1="297.7" x2="694.6" y2="297.7" stroke-width="1.3"/><rect x="689.8" y="291.0" width="4.5" height="4.5" stroke="none"/></g>
<g fill="#ff0000" stroke="#ff0000"><line x1="714.7" y1="295.4" x2="714.7" y2="304.4" stroke-width="1.3"/><line x1="712.2" y1="295.4" x2="717.2" y2="295.4" stroke-width="1.3"/><line x1="712.2" y1="304.4" x2="717.2" y2="304.4" stroke-width="1.3"/><rect x="712.4" y="297.7" width="4.5" height="4.5" stroke="none"/></g>
<g fill="#ff0000" stroke="#ff0000"><line x1="737.3" y1="310.7" x2="737.3" y2="317.9" stroke-width="1.3"/><line x1="734.8" y1="310.7" x2="739.8" y2="310.7" stroke-width="1.3"/><line x1="734.8" y1="317.9" x2="739.8" y2="317.9" stroke-width="1.3"/><rect x="735.0" y="312.1" width="4.5" height="4.5" stroke="none"/></g>
<g font-weight="bold" font-size="17.2" fill="#262626" text-anchor="end">
<text x="430.5" y="324">0</text>
<text x="430.5" y="277.6">0.2</text>
<text x="430.5" y="231.2">0.4</text>
<text x="430.5" y="184.8">0.6</text>
<text x="430.5" y="138.4">0.8</text>
<text x="430.5" y="92">1</text>
</g>
<g font-weight="bold" font-size="16.5" fill="#262626">
<text x="421" y="346">10<tspan font-size="12.5" dx="1" dy="-8">-4</tspan></text>
<text x="571.5" y="346">10<tspan font-size="12.5" dx="1" dy="-8">-2</tspan></text>
<text x="723.5" y="346">10<tspan font-size="12.5" dx="1.5" dy="-8">0</tspan></text>
</g>
<text x="575.5" y="377.5" font-size="18.7" font-weight="bold" fill="#000" text-anchor="middle">Concentration g/L</text>
<text transform="translate(397,205) rotate(-90)" font-size="19.2" font-weight="bold" fill="#000" text-anchor="middle">Normalized intensity</text>
<!-- legend b -->
<rect x="652.6" y="89.5" width="76.8" height="42" fill="#fff" stroke="#262626" stroke-width="1.4"/>
<rect x="665.8" y="98.5" width="4.8" height="4.8" fill="#ff0000"/>
<line x1="655.5" y1="120.9" x2="680.6" y2="120.9" stroke="#0000ff" stroke-width="2"/>
<g font-size="15.6" font-weight="bold" fill="#000">
<text x="683" y="106.8">R6G</text>
<text x="683" y="126.7">Water</text>
</g>
</svg>
</body></html>
